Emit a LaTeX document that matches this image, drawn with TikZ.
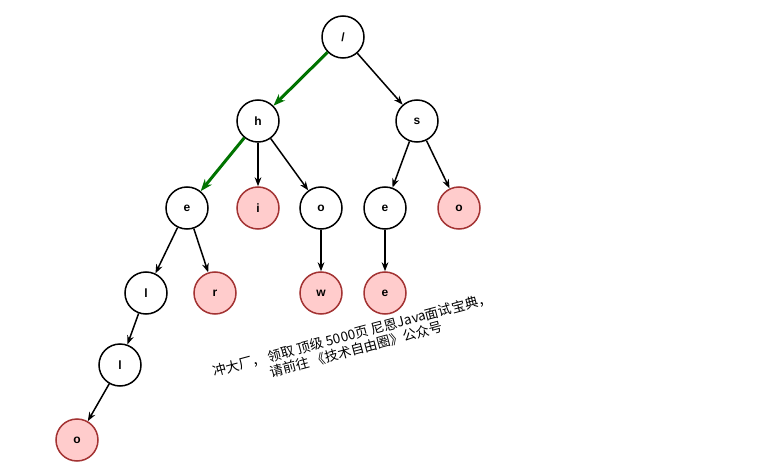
\documentclass[tikz,border=0pt]{standalone}
\usepackage{fontspec}
\setmainfont{Liberation Sans}
\newfontfamily\cjk{Noto Sans CJK SC}
\usetikzlibrary{arrows.meta}
\begin{document}
\begin{tikzpicture}[x=1pt,y=-1pt,
  trie/.style={draw,circle,line width=1.5pt,minimum size=42pt,inner sep=0pt,font=\bfseries\fontsize{12}{12}\selectfont,fill=white},
  leaf/.style={trie,draw=red!55!black!80,fill=red!20},
  edge/.style={-{Stealth[length=9pt]},line width=1.5pt},
  hit/.style={-{Stealth[length=12pt]},line width=3pt,green!45!black}]
\useasboundingbox (0,0) rectangle (763,468);

\node[trie] (root) at (343,37) {/};
\node[trie] (h) at (258,121) {h};
\node[trie] (s) at (417,121) {s};
\node[trie] (he) at (187,208) {e};
\node[leaf] (hi) at (258,208) {i};
\node[trie] (ho) at (321,208) {o};
\node[trie] (se) at (385,208) {e};
\node[leaf] (so) at (459,208) {o};
\node[trie] (hel) at (146,293) {l};
\node[leaf] (her) at (215,293) {r};
\node[leaf] (how) at (321,293) {w};
\node[leaf] (see) at (385,293) {e};
\node[trie] (hell) at (120,365) {l};
\node[leaf] (hello) at (77,440) {o};

\draw[hit] (root) -- (h);
\draw[hit] (h) -- (he);
\draw[edge] (root) -- (s);
\draw[edge] (h) -- (hi);
\draw[edge] (h) -- (ho);
\draw[edge] (s) -- (se);
\draw[edge] (s) -- (so);
\draw[edge] (he) -- (hel);
\draw[edge] (he) -- (her);
\draw[edge] (ho) -- (how);
\draw[edge] (se) -- (see);
\draw[edge] (hel) -- (hell);
\draw[edge] (hell) -- (hello);

\node[rotate=15,align=center,font=\cjk\fontsize{13.5}{15}\selectfont] (note) at (354,342)
  {冲大厂， 领取 顶级 5000页 尼恩Java面试宝典，\\请前往 《技术自由圈》公众号};
\end{tikzpicture}
\end{document}
